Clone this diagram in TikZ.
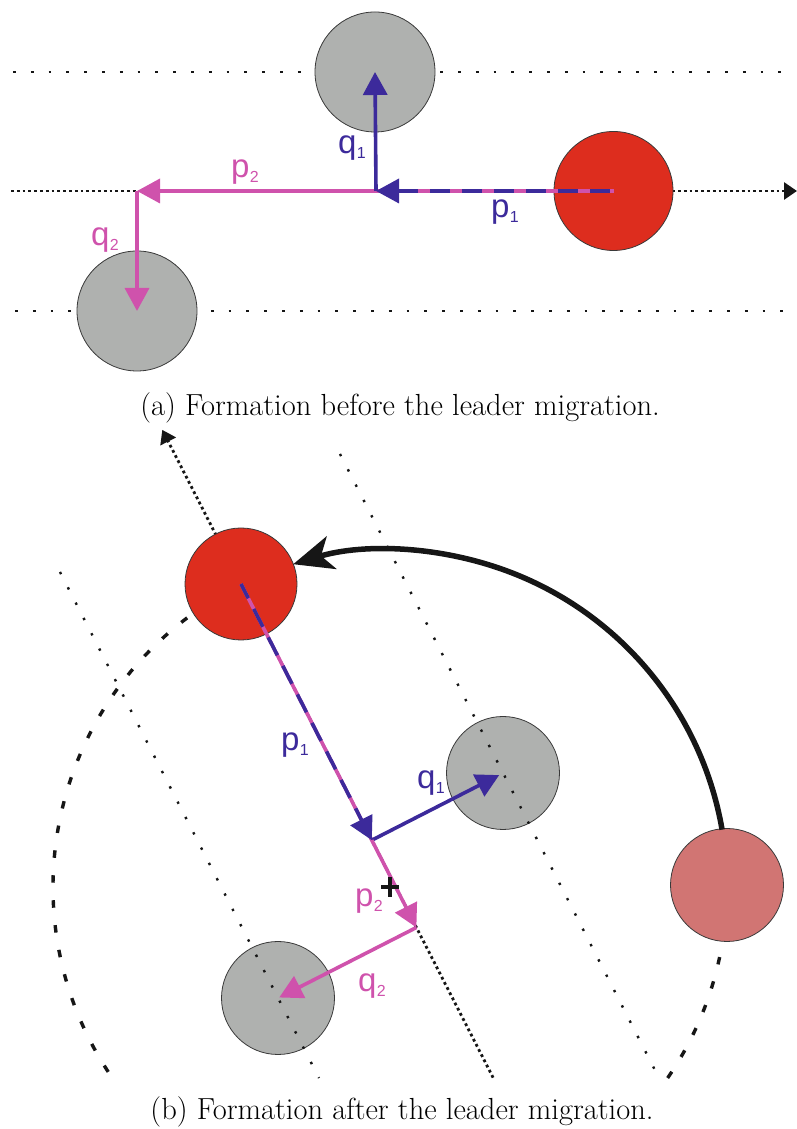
\documentclass[tikz,border=0pt]{standalone}
\usepackage{fontspec}
\newfontfamily\labfont{Liberation Sans}
\usetikzlibrary{arrows.meta}
\definecolor{vblue}{RGB}{60,42,155}
\definecolor{vpink}{RGB}{207,82,172}
\definecolor{lred}{RGB}{221,45,30}
\definecolor{agray}{RGB}{175,177,175}
\definecolor{salmon}{RGB}{209,117,115}
\definecolor{ink}{RGB}{22,22,22}
\newcommand\veclab[2]{\labfont\fontsize{33}{33}\selectfont #1\kern0.5pt\raisebox{-5pt}{\fontsize{16}{16}\selectfont #2}}
\begin{document}
\begin{tikzpicture}[x=1pt,y=1pt,
  agent/.style={circle, draw=ink!85, line width=0.8pt, minimum size=#1, inner sep=0pt},
  sparsedots/.style={ink, line width=2.8pt, dash pattern=on 2.8pt off 15pt},
  sparsedotsb/.style={ink, line width=2.4pt, dash pattern=on 2.4pt off 14.8pt},
  densedots/.style={ink, line width=2.8pt, dash pattern=on 2.8pt off 3pt},
  axistip/.style={-{Triangle[length=13pt,width=17pt]}},
  vec/.style={line width=3.6pt, -{Triangle[length=23pt,width=24pt]}},
  dashvec/.style={vec, vblue, dash pattern=on 20pt off 12pt},
  underline/.style={vpink, line width=3.6pt},
  circdash/.style={ink, line width=3.4pt, dash pattern=on 7.5pt off 17.5pt},
  migr/.style={ink, line width=5.5pt, -{Stealth[length=40pt,width=34pt,inset=11pt]}},
  lab/.style={inner sep=0pt},
  caption/.style={inner sep=0pt, font=\fontsize{30.5}{36}\selectfont}
]
\useasboundingbox (0,0) rectangle (797,1129);

% ---------- (a) ----------
\draw[sparsedots] (13,1057) -- (790,1057);
\draw[sparsedots] (15,818) -- (790,818);
\draw[densedots, axistip] (11,938) -- (797,938);
\node[agent=120pt, fill=agray] (Gt) at (375,1057) {};
\node[agent=120pt, fill=agray] (Gl) at (137,818) {};
\node[agent=119pt, fill=lred] (Rt) at (613.5,938) {};
\coordinate (T1) at (376,938);
\coordinate (T2) at (137,938);
\draw[underline] (Rt.center) -- (T1);
\draw[dashvec, dash phase=28pt] (Rt.center) -- (T1);
\draw[vec, vpink] (T1) -- (T2);
\draw[vec, vblue] (T1) -- (Gt.center);
\draw[vec, vpink] (T2) -- (Gl.center);
\node[lab, text=vblue] (lq1a) at (352,981) {\veclab{q}{1}};
\node[lab, text=vblue] (lp1a) at (505,917) {\veclab{p}{1}};
\node[lab, text=vpink] (lp2a) at (245,957) {\veclab{p}{2}};
\node[lab, text=vpink] (lq2a) at (105,889) {\veclab{q}{2}};
\node[caption] (capa) at (400,721) {(a) Formation before the leader migration.};

% ---------- (b) ----------
\coordinate (C) at (390,242);
\coordinate (V1) at (371.8,288.8);
\coordinate (V2) at (416.4,201.5);
\coordinate (Q1) at (499.2,353.9);
\coordinate (Q2) at (279.2,131.5);
\coordinate (AxA) at (493.1,51.4);
\coordinate (AxB) at (162.3,699.1);
\draw[densedots, axistip] (AxA) -- (AxB);
\draw[circdash] ([shift={(127:337pt)}]C) arc[start angle=127, end angle=214, radius=337pt];
\draw[circdash] ([shift={(-12:337pt)}]C) arc[start angle=-12, end angle=-35, radius=337pt];
\node[agent=113pt, fill=agray] (G1) at (503,356) {};
\node[agent=113pt, fill=agray] (G2) at (278,131) {};
\draw[sparsedotsb] (340,675) -- (659,51);
\draw[sparsedotsb] (60,557) -- (319,51);
\node[agent=112pt, fill=lred] (Rb) at (241,545) {};
\node[agent=113pt, fill=salmon] (Pb) at (727,244) {};
\draw[migr] ([shift={(9.8:337pt)}]C) arc[start angle=9.8, end angle=106.7, radius=337pt];
\draw[underline] (Rb.center) -- (V1);
\draw[dashvec, dash phase=4pt] (Rb.center) -- (V1);
\draw[vec, vblue] (V1) -- (Q1);
\draw[vec, vpink] (V1) -- (V2);
\draw[vec, vpink] (V2) -- (Q2);
\draw[ink, line width=4pt] ([xshift=-9pt]C) -- ([xshift=9pt]C);
\draw[ink, line width=4pt] ([yshift=-10pt]C) -- ([yshift=10pt]C);
\node[lab, text=vblue] (lp1b) at (295,384) {\veclab{p}{1}};
\node[lab, text=vblue] (lq1b) at (431,346) {\veclab{q}{1}};
\node[lab, text=vpink] (lp2b) at (369,228) {\veclab{p}{2}};
\node[lab, text=vpink] (lq2b) at (372,143) {\veclab{q}{2}};
\node[caption] (capb) at (402,17) {(b) Formation after the leader migration.};
\end{tikzpicture}
\end{document}
